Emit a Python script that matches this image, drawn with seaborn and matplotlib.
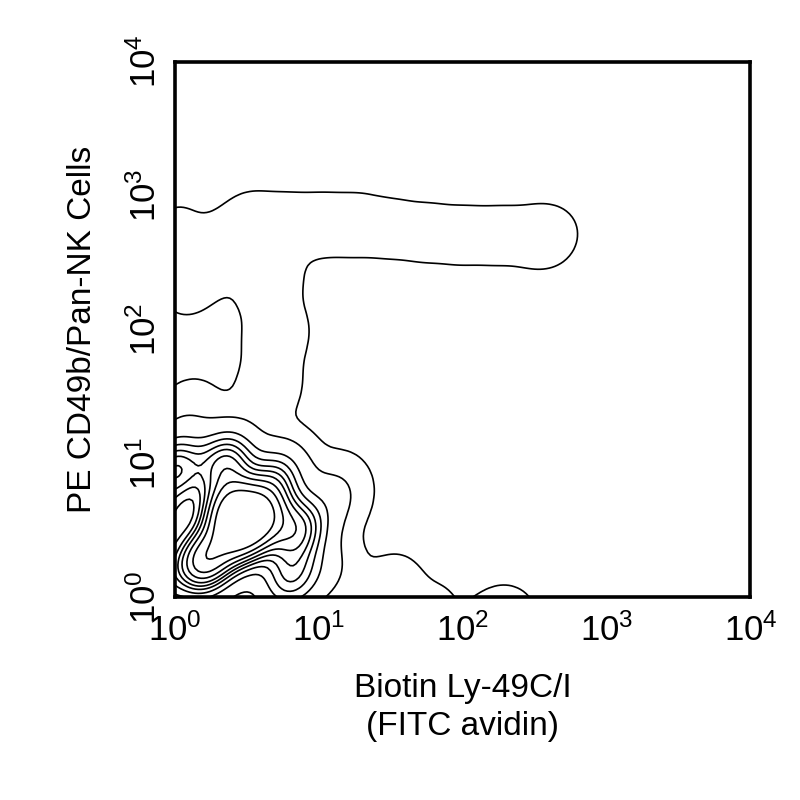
import numpy as np
import pandas as pd
import seaborn as sns
import matplotlib.pyplot as plt

# ==========================================
# DATA (event clusters, in decades = log10 units)
# ==========================================

# low / double-negative population
low_x = [0.38, 0.58, 0.45, 0.20, 0.00, 0.35, 0.70, 0.85, 0.80, -0.15, -0.10]
low_y = [0.65, 0.60, 0.45, 0.27, 0.95, 1.00, 0.88, 0.50, 0.15, 0.60, 0.15]
low_w = [5, 5, 4, 5, 3, 3, 2, 3, 2, 2, 1]

# tail along the bottom edge
tail_x = [1.10, 1.05, 1.50, 1.80, 2.25]
tail_y = [0.75, 0.20, 0.05, -0.10, -0.25]
tail_w = [0.5, 0.4, 0.2, 0.09, 0.45]

# bridge between the two populations
bridge_x = [0.10, 0.65, 0.70, 0.65, 0.10, 0.30]
bridge_y = [1.35, 1.55, 1.95, 2.35, 2.35, 2.55]
bridge_w = [0.22, 0.22, 0.22, 0.22, 0.15, 0.15]

# CD49b+ NK band
nk_x = [0.00, 0.25, 0.50, 0.75, 1.00, 1.25, 1.50, 1.75, 2.00, 2.25, 2.50, 2.65]
nk_y = [2.75, 2.80, 2.80, 2.78, 2.78, 2.78, 2.75, 2.72, 2.70, 2.70, 2.70, 2.68]
nk_w = [0.08, 0.01, 0.12, 0.12, 0.12, 0.12, 0.1, 0.1, 0.1, 0.1, 0.1, 0.08]

contour_levels = [0.012, 0.1, 0.18, 0.26, 0.34, 0.42, 0.5, 0.58, 0.66, 0.76]

tick_values = [1, 10, 100, 1000, 10000]

x_label = "Biotin Ly-49C/I\n(FITC avidin)"
y_label = "PE CD49b/Pan-NK Cells"

df = pd.DataFrame({
    "x": np.power(10.0, low_x + tail_x + bridge_x + nk_x),
    "y": np.power(10.0, low_y + tail_y + bridge_y + nk_y),
    "w": low_w + tail_w + bridge_w + nk_w
})

# ==========================================
# STYLE
# ==========================================

sns.set_style("white")
plt.rcParams["font.family"] = ["Liberation Sans", "DejaVu Sans"]
plt.rcParams["mathtext.fontset"] = "custom"
plt.rcParams["mathtext.rm"] = "Liberation Sans"
plt.rcParams["text.color"] = "black"
plt.rcParams["xtick.color"] = "black"
plt.rcParams["ytick.color"] = "black"
plt.rcParams["axes.labelcolor"] = "black"

fig = plt.figure(figsize=(8, 8), dpi=100)
ax = fig.add_axes([0.219, 0.254, 0.719, 0.669])

# ==========================================
# CONTOUR PLOT
# ==========================================

sns.kdeplot(
    data=df,
    x="x",
    y="y",
    weights="w",
    log_scale=True,
    levels=contour_levels,
    bw_adjust=0.45,
    color="black",
    linewidths=1.2,
    ax=ax
)

ax.set_xlim(1, 10000)
ax.set_ylim(1, 10000)
ax.set_xticks(tick_values)
ax.set_yticks(tick_values)
ax.minorticks_off()
ax.tick_params(length=0, labelsize=25)
ax.tick_params(axis="x", pad=12)
ax.tick_params(axis="y", pad=9)
for lab in ax.get_yticklabels():
    lab.set_rotation(90)
    lab.set_va("center")

for side in ax.spines.values():
    side.set_linewidth(2.6)
    side.set_color("black")

ax.set_xlabel(x_label, fontsize=24, labelpad=18, linespacing=1.3)
ax.set_ylabel(y_label, fontsize=24, labelpad=22)

plt.savefig("out.png", dpi=100)
